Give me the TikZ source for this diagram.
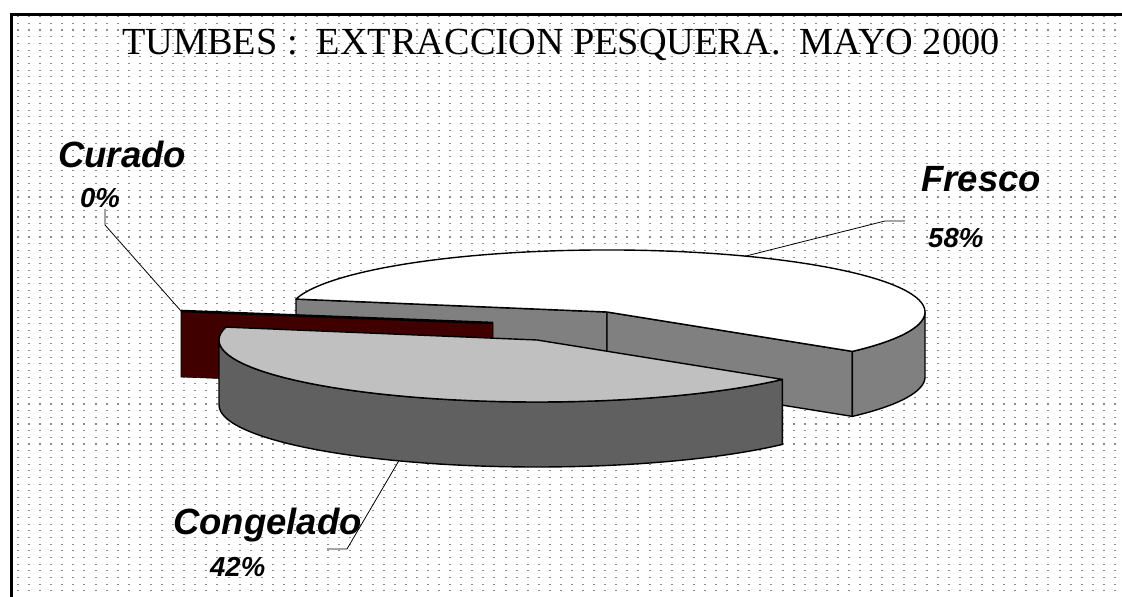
\documentclass[tikz,border=0pt]{standalone}
\usepackage{fontspec}
\setmainfont{Liberation Serif}
\setsansfont{Liberation Sans}
\definecolor{fresside}{RGB}{128,128,128}
\definecolor{congtop}{RGB}{192,192,192}
\definecolor{congside}{RGB}{96,96,96}
\definecolor{curadored}{RGB}{64,0,0}
\definecolor{griddot}{RGB}{140,140,140}
\tikzset{
  edge/.style={draw=black, line width=1.4pt, line join=round},
  leader/.style={draw=black, line width=0.8pt},
  lbl/.style={font=\sffamily\bfseries\itshape\fontsize{36.5}{40}\selectfont, anchor=base west, inner sep=0pt},
  pct/.style={font=\sffamily\bfseries\itshape\fontsize{27.5}{30}\selectfont, anchor=base west, inner sep=0pt},
  ttl/.style={font=\fontsize{38.3}{42}\selectfont, anchor=base west, inner sep=0pt},
  ell/.style={x radius=318, y radius=62}
}
\begin{document}
\begin{tikzpicture}[x=1pt,y=1pt]
\useasboundingbox (0,0) rectangle (1122,597);
\fill[white] (0,0) rectangle (1122,597);
% dotted background
\foreach \k in {0,...,86} {
  \draw[griddot, line width=1.1pt, dash pattern=on 2pt off 9.08pt] (17,{580.3-6.677*\k}) -- (1122,{580.3-6.677*\k});
}
% frame
\draw[line width=3.3pt] (11.7,0) -- (11.7,582.7) -- (1122,582.7);

% ---- Fresco slice (back) ----
\coordinate (F) at (607,285);
\coordinate (Fb) at (607,220);
\coordinate (P1) at (852.4,245.6);
\coordinate (P1b) at (852.4,180.6);
\coordinate (P2) at (296,297.9);
\coordinate (P2b) at (296,232.9);
\filldraw[fill=fresside, edge] (F) -- (P2) -- (P2b) -- (Fb) -- cycle;
\filldraw[fill=fresside, edge] (F) -- (P1) -- (P1b) -- (Fb) -- cycle;
\filldraw[fill=fresside, edge] (P1) arc[start angle=-39.5, end angle=0, ell] -- ++(0,-65) arc[start angle=0, end angle=-39.5, ell] -- cycle;
\filldraw[fill=white, edge] (F) -- (P1) arc[start angle=-39.5, end angle=168, ell] -- cycle;

% ---- Curado slice (0%) ----
\coordinate (K1) at (181,286);
\coordinate (K2) at (493,274);
\coordinate (K3) at (493,208);
\coordinate (K4) at (181,220);
\filldraw[fill=curadored, draw=black, line width=0.6pt] (K1) -- (K2) -- (K3) -- (K4) -- cycle;
\draw[line width=2.6pt] (K1) -- (K2);

% ---- Congelado slice (front, exploded) ----
\coordinate (C) at (537,257);
\coordinate (CL) at (219,257);
\coordinate (CQ) at (226,269.9);
\filldraw[fill=congside, edge] (CL) arc[start angle=180, end angle=320.5, ell] -- ++(0,-65) arc[start angle=320.5, end angle=180, ell] -- cycle;
\filldraw[fill=congtop, edge] (C) -- (CQ) arc[start angle=168, end angle=320.5, ell] -- cycle;

% ---- title ----
\node[ttl] (title) at (122,542) {TUMBES :\ \ EXTRACCION PESQUERA.\ \ MAYO 2000};

% ---- labels ----
\node[lbl] (lcur) at (58,429) {Curado};
\node[pct] (pcur) at (80,389) {0\%};
\node[lbl] (lfre) at (921,405) {Fresco};
\node[pct] (pfre) at (928,349) {58\%};
\node[lbl] (lcon) at (173,62) {Congelado};
\node[pct] (pcon) at (210,20.3) {42\%};

% ---- leader lines ----
\coordinate (curA) at (105,388);
\coordinate (curB) at (105,372);
\draw[leader] (curA) -- (curB) -- (K1);
\coordinate (freA) at (745.2,340.8);
\coordinate (freB) at (885,376);
\coordinate (freC) at (905,376);
\draw[leader] (freA) -- (freB) -- (freC);
\coordinate (conA) at (398.8,136.2);
\coordinate (conB) at (347,48);
\coordinate (conC) at (327,48);
\draw[leader] (conA) -- (conB) -- (conC);
\end{tikzpicture}
\end{document}
